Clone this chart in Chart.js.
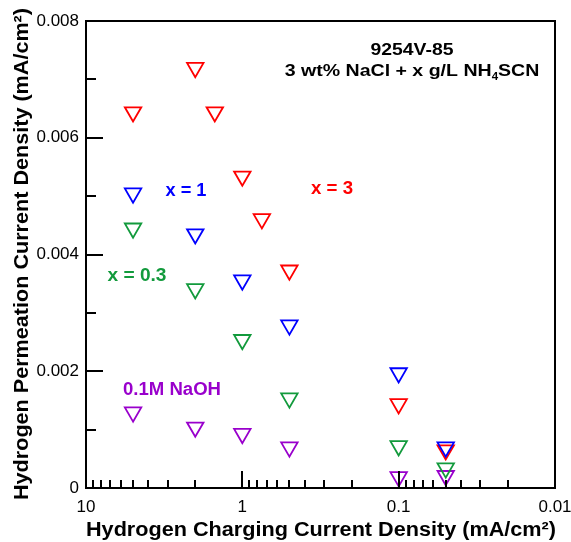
<!DOCTYPE html>
<html>
<head>
<meta charset="utf-8">
<script src="https://cdn.jsdelivr.net/npm/chart.js@4.4.1/dist/chart.umd.min.js"></script>
<style>
  html, body { margin: 0; padding: 0; background: #fff; }
  #wrap { width: 571px; height: 542px; }
</style>
</head>
<body>
<div id="wrap"><canvas id="chart" width="571" height="542"></canvas></div>
<script>
'use strict';

// charging current density (mA/cm2) vs permeation current density (mA/cm2)
const redX = [5, 2, 1.5, 1, 0.75, 0.5, 0.1, 0.05];
const redY = [0.00644, 0.0072, 0.00644, 0.00534, 0.00461, 0.00373, 0.00144, 0.00065];

const blueX = [5, 2, 1, 0.5, 0.1, 0.05];
const blueY = [0.00505, 0.00435, 0.00356, 0.00279, 0.00197, 0.00070];

const greenX = [5, 2, 1, 0.5, 0.1, 0.05];
const greenY = [0.00445, 0.00341, 0.00254, 0.00154, 0.00072, 0.00034];

const purpleX = [5, 2, 1, 0.5, 0.1, 0.05];
const purpleY = [0.00130, 0.00104, 0.00093, 0.00070, 0.00019, 0.00021];

const xMajorTicks = [10, 1, 0.1, 0.01];
const yMajorTicks = [0, 0.002, 0.004, 0.006, 0.008];
const yMinorTicks = [0.001, 0.003, 0.005, 0.007];

const FONT = '"Liberation Sans", Arial, Helvetica, sans-serif';
const RED = '#ff0000';
const BLUE = '#0000ff';
const GREEN = '#129a3c';
const PURPLE = '#9900cc';

function points(xs, ys) {
  return xs.map((x, i) => ({ x, y: ys[i] }));
}

function series(label, xs, ys, color) {
  return {
    label,
    data: points(xs, ys),
    borderColor: color,
    backgroundColor: 'rgba(0,0,0,0)',
    pointStyle: 'triangle',
    pointRotation: 180,
    pointRadius: 9.5,
    pointBorderWidth: 1.8,
    showLine: false
  };
}

function xMinorTicks() {
  const out = [];
  for (let d = 0.01; d < 10; d *= 10) {
    for (let k = 2; k <= 9; k++) {
      out.push(k * d);
    }
  }
  return out;
}

// the original bold lettering runs a bit wider than Liberation Sans,
// so squeeze/stretch each string horizontally to its measured width
function stretchedText(ctx, text, cx, baseline, width) {
  const w = ctx.measureText(text).width;
  ctx.save();
  ctx.translate(cx, baseline);
  ctx.scale(width / w, 1);
  ctx.textAlign = 'center';
  ctx.textBaseline = 'alphabetic';
  ctx.fillText(text, 0, 0);
  ctx.restore();
}

const frameAndTicks = {
  id: 'frameAndTicks',
  afterDraw(chart) {
    const { ctx, chartArea: a, scales } = chart;
    const xs = scales.x;
    const ys = scales.y;

    ctx.save();
    ctx.strokeStyle = '#000';
    ctx.lineWidth = 2;
    ctx.strokeRect(a.left, a.top, a.right - a.left, a.bottom - a.top);

    ctx.beginPath();
    for (const v of yMajorTicks) {
      const py = Math.round(ys.getPixelForValue(v));
      ctx.moveTo(a.left, py);
      ctx.lineTo(a.left + 17, py);
    }
    for (const v of yMinorTicks) {
      const py = Math.round(ys.getPixelForValue(v));
      ctx.moveTo(a.left, py);
      ctx.lineTo(a.left + 10, py);
    }
    for (const v of xMajorTicks) {
      const px = Math.round(xs.getPixelForValue(v));
      ctx.moveTo(px, a.bottom);
      ctx.lineTo(px, a.bottom - 17);
    }
    for (const v of xMinorTicks()) {
      const px = Math.round(xs.getPixelForValue(v));
      ctx.moveTo(px, a.bottom);
      ctx.lineTo(px, a.bottom - 8);
    }
    ctx.stroke();

    // axis titles
    ctx.fillStyle = '#000';
    ctx.font = `bold 20px ${FONT}`;
    stretchedText(ctx, 'Hydrogen Charging Current Density (mA/cm\u00b2)', 321, 536, 470);

    ctx.save();
    ctx.translate(28, 254);
    ctx.rotate(-Math.PI / 2);
    stretchedText(ctx, 'Hydrogen Permeation Current Density (mA/cm\u00b2)', 0, 0, 492);
    ctx.restore();

    // header text
    ctx.font = `bold 17px ${FONT}`;
    stretchedText(ctx, '9254V-85', 412, 55, 83);

    const partA = '3 wt% NaCl + x g/L NH';
    const partSub = '4';
    const partB = 'SCN';
    const k = 1.15;
    ctx.font = `bold 17px ${FONT}`;
    const wA = ctx.measureText(partA).width * k;
    const wB = ctx.measureText(partB).width * k;
    ctx.font = `bold 10px ${FONT}`;
    const wS = ctx.measureText(partSub).width * k;
    const x0 = 412 - (wA + wS + wB) / 2;
    ctx.font = `bold 17px ${FONT}`;
    stretchedText(ctx, partA, x0 + wA / 2, 76, wA);
    ctx.font = `bold 10px ${FONT}`;
    stretchedText(ctx, partSub, x0 + wA + wS / 2, 80, wS);
    ctx.font = `bold 17px ${FONT}`;
    stretchedText(ctx, partB, x0 + wA + wS + wB / 2, 76, wB);

    // series labels
    ctx.font = `bold 18px ${FONT}`;
    ctx.fillStyle = BLUE;
    stretchedText(ctx, 'x = 1', 186, 196, 41);
    ctx.fillStyle = RED;
    stretchedText(ctx, 'x = 3', 332, 194, 42);
    ctx.fillStyle = GREEN;
    stretchedText(ctx, 'x = 0.3', 137, 281, 59);
    ctx.fillStyle = PURPLE;
    stretchedText(ctx, '0.1M NaOH', 172, 395, 98);

    ctx.restore();
  }
};

new Chart(document.getElementById('chart'), {
  type: 'scatter',
  data: {
    datasets: [
      series('x = 1', blueX, blueY, BLUE),
      series('x = 3', redX, redY, RED),
      series('x = 0.3', greenX, greenY, GREEN),
      series('0.1M NaOH', purpleX, purpleY, PURPLE)
    ]
  },
  options: {
    responsive: false,
    animation: false,
    layout: { padding: { top: 21, right: 16, left: 0, bottom: 0 } },
    plugins: {
      legend: { display: false },
      tooltip: { enabled: false }
    },
    scales: {
      x: {
        type: 'logarithmic',
        reverse: true,
        min: 0.01,
        max: 10,
        grid: { display: false, drawTicks: false },
        border: { display: false },
        afterBuildTicks(scale) {
          scale.ticks = xMajorTicks.map((value) => ({ value, major: true }));
        },
        afterFit(scale) {
          scale.height = 54;
          // let the "0.01" label hang past the plot edge like the original
          scale.paddingLeft = 0;
          scale.paddingRight = 0;
        },
        ticks: {
          padding: 9,
          color: '#000',
          font: { family: FONT, size: 17 },
          maxRotation: 0,
          autoSkip: false,
          callback(value) {
            return String(value);
          }
        }
      },
      y: {
        min: 0,
        max: 0.008,
        grid: { display: false, drawTicks: false },
        border: { display: false },
        afterBuildTicks(scale) {
          scale.ticks = yMajorTicks.map((value) => ({ value }));
        },
        afterFit(scale) {
          scale.width = 86;
          scale.paddingTop = 0;
          scale.paddingBottom = 0;
        },
        ticks: {
          padding: 7,
          color: '#000',
          font: { family: FONT, size: 17 },
          callback(value) {
            return value === 0 ? '0' : value.toFixed(3);
          }
        }
      }
    }
  },
  plugins: [frameAndTicks]
});
</script>
</body>
</html>
